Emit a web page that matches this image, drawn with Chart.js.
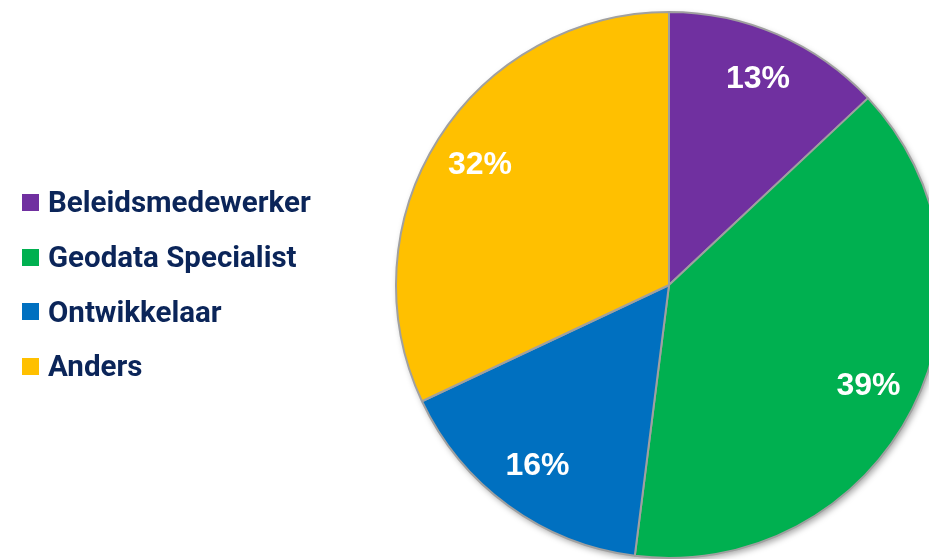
<!DOCTYPE html>
<html>
<head>
<meta charset="utf-8">
<script src="https://cdn.jsdelivr.net/npm/chart.js@4"></script>
<style>
  html, body { margin: 0; padding: 0; width: 929px; height: 559px; overflow: hidden; background: #fff; }
  #wrap { position: absolute; left: 0; top: 0; width: 960px; height: 570px; }
  #legend { position: absolute; left: 22px; top: 175px; font-family: Roboto, "Noto Sans", sans-serif; font-weight: bold; font-size: 29.5px; color: #0b2559; }
  .item { display: flex; align-items: center; height: 54.7px; white-space: nowrap; }
  .box { width: 17px; height: 17px; margin-right: 9px; flex: none; }
</style>
</head>
<body>
<div id="wrap"><canvas id="pie"></canvas></div>
<div id="legend"></div>
<script>
// Data
const categories = ["Beleidsmedewerker", "Geodata Specialist", "Ontwikkelaar", "Anders"];
const shares = [13, 39, 16, 32];
const colors = ["#7030A0", "#00B050", "#0070C0", "#FFC000"];

// Legend (left side)
const legendEl = document.getElementById("legend");
categories.forEach((name, i) => {
    const row = document.createElement("div");
    row.className = "item";
    row.innerHTML = '<span class="box" style="background:' + colors[i] + '"></span><span>' + name + "</span>";
    legendEl.appendChild(row);
});

// soft shadow under the pie
const shadowPlugin = {
    id: "pieShadow",
    beforeDatasetsDraw(chart) {
        const arc = chart.getDatasetMeta(0).data[0];
        if (!arc) return;
        const c = chart.ctx;
        c.save();
        c.shadowColor = "rgba(0,0,0,0.35)";
        c.shadowBlur = 6;
        c.shadowOffsetX = 2;
        c.shadowOffsetY = 3;
        c.fillStyle = "#ffffff";
        c.beginPath();
        c.arc(arc.x, arc.y, arc.outerRadius, 0, Math.PI * 2);
        c.fill();
        c.restore();
    },
};

// percentage labels inside slices
const labelPlugin = {
    id: "pctLabels",
    afterDatasetsDraw(chart) {
        const c = chart.ctx;
        const meta = chart.getDatasetMeta(0);
        c.save();
        c.font = "bold 32px 'Liberation Sans', Arial, sans-serif";
        c.fillStyle = "#ffffff";
        c.textAlign = "center";
        c.textBaseline = "middle";
        meta.data.forEach((arc, i) => {
            const mid = (arc.startAngle + arc.endAngle) / 2;
            const r = arc.outerRadius * 0.82;
            c.fillText(shares[i] + "%", arc.x + Math.cos(mid) * r, arc.y + Math.sin(mid) * r);
        });
        c.restore();
    },
};

new Chart(document.getElementById("pie"), {
    type: "pie",
    data: {
        labels: categories,
        datasets: [{
            data: shares,
            backgroundColor: colors,
            borderColor: "#a0a0a0",
            borderWidth: 2,
        }],
    },
    options: {
        responsive: true,
        maintainAspectRatio: false,
        animation: false,
        layout: { padding: { left: 395, top: 11, right: 17, bottom: 11 } },
        plugins: {
            legend: { display: false },
            tooltip: { enabled: false },
        },
    },
    plugins: [shadowPlugin, labelPlugin],
});
</script>
</body>
</html>
